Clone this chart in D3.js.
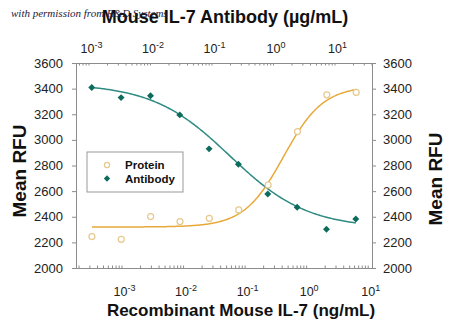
<!DOCTYPE html>
<html><head><meta charset="utf-8">
<script src="https://cdn.jsdelivr.net/npm/d3@7"></script>
<style>body{margin:0;background:#fff}svg{display:block}text{font-family:"Liberation Sans",Arial,sans-serif}</style>
</head><body>
<svg id="c" width="450" height="329"></svg>
<script>
// ---- data ----
const proteinConc = [0.00033, 0.00099, 0.00297, 0.00892, 0.0267, 0.0802, 0.241, 0.722, 2.17, 6.5]; // ng/mL
const proteinRFU  = [2245, 2224, 2401, 2362, 2388, 2453, 2648, 3065, 3352, 3370];
const antibodyConc = [0.00113, 0.00339, 0.0102, 0.0305, 0.0914, 0.274, 0.823, 2.47, 7.41, 22.2]; // µg/mL
const antibodyRFU  = [3409, 3330, 3344, 3195, 2930, 2810, 2578, 2474, 2302, 2383];
// 4PL fit parameters [bottom, top, EC50, hill]
const proteinFit  = [2320, 3420, 0.43, 1.35];
const antibodyFit = [3440, 2310, 0.199, 0.69];
const yTicks = [2000, 2200, 2400, 2600, 2800, 3000, 3200, 3400, 3600];
const xMajor = [1e-3, 1e-2, 1e-1, 1e0, 1e1];
const xExp = ["-3", "-2", "-1", "0", "1"];
const legendLabels = ["Protein", "Antibody"];

const svg = d3.select("#c");
const L = 76, R = 372, T = 63, B = 268;
const xB = d3.scaleLog().domain([Math.pow(10, -3.74), Math.pow(10, 1.07)]).range([L, R]);
const xT = d3.scaleLog().domain([Math.pow(10, -3.203), Math.pow(10, 1.61)]).range([L, R]);
const y = d3.scaleLinear().domain([2000, 3600]).range([B, T]);

const axisCol = "#8c8c8c";
const protCol = "#e8a93a", protPt = "#e6c88e";
const abCol = "#2e8b82", abPt = "#0d6b5c";

function styleAxis(g){ g.select(".domain").attr("stroke", axisCol).attr("stroke-width",1);
  g.selectAll(".tick line").attr("stroke", axisCol); g.selectAll(".tick text").remove(); }

svg.append("g").attr("transform",`translate(${L},0)`)
  .call(d3.axisLeft(y).tickValues(yTicks).tickSizeOuter(0).tickSize(4)).call(styleAxis);
svg.append("g").attr("transform",`translate(${R},0)`)
  .call(d3.axisRight(y).tickValues(yTicks).tickSizeOuter(0).tickSize(4)).call(styleAxis);
const minorB = xB.ticks().filter(v => v >= xB.domain()[0] && v <= xB.domain()[1]);
const minorT = xT.ticks().filter(v => v >= xT.domain()[0] && v <= xT.domain()[1]);
svg.append("g").attr("transform",`translate(0,${B})`)
  .call(d3.axisBottom(xB).tickValues(minorB).tickSizeOuter(0).tickSize(-2.5)).call(styleAxis);
svg.append("g").attr("transform",`translate(0,${T})`)
  .call(d3.axisTop(xT).tickValues(minorT).tickSizeOuter(0).tickSize(-2.5)).call(styleAxis);

yTicks.forEach(v => {
  svg.append("text").attr("x", 63).attr("y", y(v) + 4.5).attr("text-anchor","end")
    .attr("font-size", 13).attr("fill","#222").text(v);
  svg.append("text").attr("x", 383).attr("y", y(v) + 4.5).attr("text-anchor","start")
    .attr("font-size", 13).attr("fill","#222").text(v);
});
function expLabel(x, yy, e){
  const t = svg.append("text").attr("x", x).attr("y", yy).attr("text-anchor","middle")
    .attr("font-size", 12.5).attr("fill","#222");
  t.append("tspan").text("10");
  t.append("tspan").attr("dy", -5).attr("font-size", 9).text(e);
}
xMajor.forEach((v,i) => { expLabel(xB(v) + 3, 296, xExp[i]); expLabel(xT(v) + 3, 53, xExp[i]); });

function fourPL(p, x){ return p[0] + (p[1]-p[0]) / (1 + Math.pow(p[2]/x, p[3])); }
function curve(xs, p, sx){
  const lo = Math.log10(d3.min(xs)), hi = Math.log10(d3.max(xs));
  const pts = d3.range(0, 201).map(i => { const x = Math.pow(10, lo + (hi-lo)*i/200); return [sx(x), y(fourPL(p, x))]; });
  return d3.line()(pts);
}
svg.append("path").attr("d", curve(proteinConc, proteinFit, xB)).attr("fill","none").attr("stroke", protCol).attr("stroke-width",1.5);
svg.append("path").attr("d", curve(antibodyConc, antibodyFit, xT)).attr("fill","none").attr("stroke", abCol).attr("stroke-width",1.5);

svg.selectAll(".pp").data(proteinConc).enter().append("circle")
  .attr("cx", d => xB(d)).attr("cy", (d,i) => y(proteinRFU[i])).attr("r", 3)
  .attr("fill","#fff").attr("stroke", protPt).attr("stroke-width",1.2);
const dia = d3.symbol().type(d3.symbolSquare).size(24);
svg.selectAll(".ap").data(antibodyConc).enter().append("path")
  .attr("d", dia)
  .attr("transform", (d,i) => `translate(${xT(d)},${y(antibodyRFU[i])}) rotate(45)`)
  .attr("fill", abPt);

svg.append("rect").attr("x", 87).attr("y", 152).attr("width", 96).attr("height", 40)
  .attr("fill","#fff").attr("stroke","#999").attr("stroke-width",1);
svg.append("circle").attr("cx",107).attr("cy",165).attr("r",2.6).attr("fill","#fff").attr("stroke",protPt).attr("stroke-width",1.2);
svg.append("path").attr("d", d3.symbol().type(d3.symbolSquare).size(20)).attr("transform","translate(107,178.5) rotate(45)").attr("fill",abPt);
legendLabels.forEach((s,i) => svg.append("text").attr("x",125).attr("y",169 + i*13.5)
  .attr("font-size",11.5).attr("font-weight","bold").attr("fill","#111").text(s));

svg.append("text").attr("x", 225).attr("y", 23).attr("text-anchor","middle").attr("font-size",18)
  .attr("font-weight","bold").attr("fill","#111").text("Mouse IL-7 Antibody (µg/mL)");
svg.append("text").attr("x", 241).attr("y", 316).attr("text-anchor","middle").attr("font-size",17)
  .attr("font-weight","bold").attr("fill","#111").text("Recombinant Mouse IL-7 (ng/mL)");
svg.append("text").attr("transform","translate(26,171) rotate(-90)").attr("text-anchor","middle")
  .attr("font-size",19).attr("font-weight","bold").attr("fill","#111").text("Mean RFU");
svg.append("text").attr("transform","translate(442,179) rotate(-90)").attr("text-anchor","middle")
  .attr("font-size",19).attr("font-weight","bold").attr("fill","#111").text("Mean RFU");
// watermark (overlaps the title, as in the reference)
svg.append("text").attr("x", 11).attr("y", 17)
  .style("font-family","'Liberation Serif','DejaVu Serif',serif")
  .style("font-style","italic").attr("font-size",11).attr("fill","#1a1a40").text("with permission from R&D Systems");
</script>
</body></html>
